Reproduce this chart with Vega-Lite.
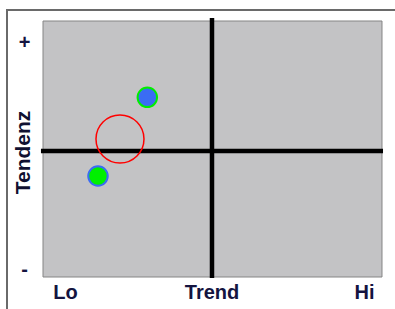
{
  "$schema": "https://vega.github.io/schema/vega-lite/v6.json",
  "width": 393,
  "height": 305,
  "autosize": "none",
  "padding": {"left": 7, "top": 10, "right": 0, "bottom": 0},
  "background": "white",
  "config": {
    "view": {"stroke": "#6a6a6a", "strokeWidth": 2, "fill": "white"},
    "font": "Liberation Sans"
  },
  "datasets": {
    "feld": [{"x": 0, "x2": 100, "y": 0, "y2": 100}],
    "achsen": [
      {"x": 49.85, "x2": 49.85, "y": -0.4, "y2": 101.2},
      {"x": -0.6, "x2": 100.3, "y": 49.2, "y2": 49.2}
    ],
    "punkte": [
      {"name": "A", "x": 30.77, "y": 70.2},
      {"name": "B", "x": 16.22, "y": 39.45}
    ],
    "ziel": [{"name": "Ziel", "x": 22.71, "y": 53.9}]
  },
  "encoding": {
    "x": {
      "field": "x", "type": "quantitative",
      "scale": {"domain": [-10.62, 105.31], "nice": false, "zero": false},
      "axis": {
        "orient": "bottom", "title": null, "domain": false, "ticks": false, "tickSize": 0, "grid": false,
        "values": [6.49, 49.7, 94.69],
        "labelExpr": "datum.value < 20 ? 'Lo' : datum.value < 70 ? 'Trend' : 'Hi'",
        "labelPadding": -22.5, "labelBaseline": "middle", "labelAlign": "center",
        "labelFlush": false, "labelOverlap": false,
        "labelFont": "Liberation Sans", "labelFontSize": 20, "labelFontWeight": "bold", "labelColor": "#141440"
      }
    },
    "y": {
      "field": "y", "type": "quantitative",
      "scale": {"domain": [-14.84, 104.3], "nice": false, "zero": false},
      "axis": {
        "orient": "left", "domain": false, "ticks": false, "tickSize": 0, "grid": false,
        "values": [91.41, 2.9],
        "labelExpr": "datum.value > 50 ? '+' : '-'",
        "labelPadding": -17, "labelBaseline": "middle", "labelAlign": "center",
        "labelFlush": false, "labelOverlap": false,
        "labelFont": "Liberation Sans", "labelFontSize": 20, "labelFontWeight": "bold", "labelColor": "#141440",
        "title": "Tendenz", "titleAngle": -90, "titleX": 16, "titleY": 142,
        "titleAlign": "center", "titleBaseline": "middle",
        "titleFont": "Liberation Sans", "titleFontSize": 21, "titleFontWeight": "bold", "titleColor": "#101030"
      }
    }
  },
  "layer": [
    {
      "data": {"name": "feld"},
      "mark": {"type": "rect", "fill": "#c3c3c5", "stroke": "#858585", "strokeWidth": 1},
      "encoding": {"x2": {"field": "x2"}, "y2": {"field": "y2"}}
    },
    {
      "data": {"name": "achsen"},
      "mark": {"type": "rule", "color": "black", "strokeWidth": 4.5},
      "encoding": {"x2": {"field": "x2"}, "y2": {"field": "y2"}}
    },
    {
      "data": {"name": "ziel"},
      "mark": {"type": "point", "shape": "circle", "filled": false, "stroke": "#ff0000", "strokeWidth": 1.5, "size": 2304, "opacity": 1}
    },
    {
      "data": {"name": "punkte"},
      "mark": {"type": "point", "shape": "circle", "filled": true, "size": 380, "strokeWidth": 2, "opacity": 1, "strokeOpacity": 1, "fillOpacity": 1},
      "encoding": {
        "fill": {"field": "name", "type": "nominal", "scale": {"domain": ["A", "B"], "range": ["#3a6cf4", "#00f000"]}, "legend": null},
        "stroke": {"field": "name", "type": "nominal", "scale": {"domain": ["A", "B"], "range": ["#00ee00", "#3a6cf4"]}, "legend": null}
      }
    }
  ]
}
